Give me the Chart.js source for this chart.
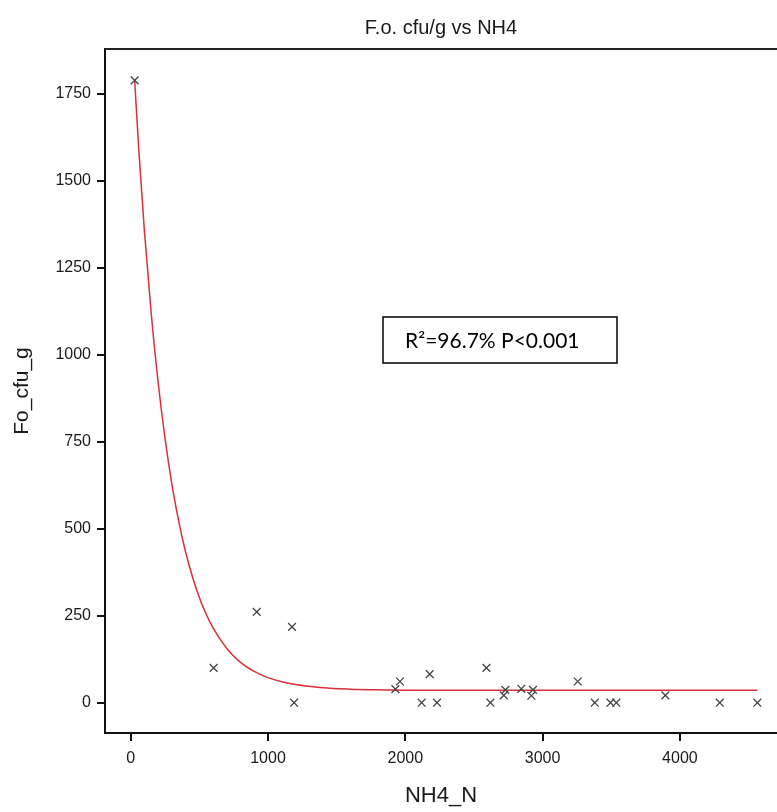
<!DOCTYPE html>
<html>
<head>
<meta charset="utf-8">
<title>F.o. cfu/g vs NH4</title>
<script src="https://cdn.jsdelivr.net/npm/chart.js@4.4.0/dist/chart.umd.min.js"></script>
<style>
    html, body { margin: 0; padding: 0; background: #fff; }
    canvas { display: block; }
</style>
</head>
<body>
<canvas id="fitChart" width="777" height="812"></canvas>
<script>
// Observations (NH4_N vs Fo_cfu_g)
const nh4N = [29, 604, 918, 1175, 1190, 1928, 1961, 2119, 2178, 2231, 2591, 2620,
              2717, 2729, 2845, 2918, 2930, 3256, 3380, 3494, 3537, 3894, 4290, 4564];
const foCfu = [1788, 100, 261, 218, 0, 39, 61, 0, 82, 0, 100, 0,
               21, 37, 40, 20, 37, 61, 0, 0, 0, 21, 0, 0];

// Fitted curve
const fitX = [29, 60, 100, 150, 200, 250, 300, 350, 400, 450, 500, 550, 600, 700,
              800, 900, 1000, 1100, 1200, 1400, 1600, 1800, 2000, 2500, 3000, 3500, 4000, 4564];
const fitY = [1788, 1583, 1355, 1116, 920, 760, 628, 521, 433, 362, 302, 254, 215, 156,
              116, 90, 72, 60, 52, 43, 39, 37, 36, 36, 36, 36, 36, 36];

// Tick labels
const xTicks = [0, 1000, 2000, 3000, 4000];
const yTicks = [0, 250, 500, 750, 1000, 1250, 1500, 1750];

const chartTitle = 'F.o. cfu/g vs NH4';
const statsText = 'R\u00b2=96.7% P<0.001';

const FONT = "'Liberation Sans', Arial, sans-serif";

// Draws the title, the top frame line and the stats box
const extrasPlugin = {
    id: 'extras',
    afterDraw(chart) {
        const { ctx, chartArea } = chart;
        ctx.save();

        // top frame line
        ctx.strokeStyle = '#222';
        ctx.lineWidth = 2;
        ctx.beginPath();
        ctx.moveTo(chartArea.left, chartArea.top);
        ctx.lineTo(chartArea.right, chartArea.top);
        ctx.stroke();

        // title
        ctx.fillStyle = '#1a1a1a';
        ctx.font = `20px ${FONT}`;
        ctx.textAlign = 'center';
        ctx.textBaseline = 'middle';
        ctx.fillText(chartTitle, (chartArea.left + chartArea.right) / 2, 28);

        // stats box
        const bx = 383, by = 317, bw = 234, bh = 46;
        ctx.fillStyle = '#fff';
        ctx.fillRect(bx, by, bw, bh);
        ctx.strokeStyle = '#000';
        ctx.lineWidth = 1.5;
        ctx.strokeRect(bx, by, bw, bh);
        ctx.fillStyle = '#000';
        ctx.font = `21px Lato, 'Open Sans', sans-serif`;
        ctx.textAlign = 'left';
        ctx.fillText(statsText, bx + 22, by + bh / 2 + 1);

        ctx.restore();
    }
};

const ctx = document.getElementById('fitChart').getContext('2d');

const chart = new Chart(ctx, {
    type: 'scatter',
    data: {
        datasets: [
            {
                label: 'Fit',
                data: fitX.map((x, i) => ({ x: x, y: fitY[i] })),
                showLine: true,
                borderColor: '#d8303c',
                borderWidth: 1.5,
                pointRadius: 0,
                cubicInterpolationMode: 'monotone',
                order: 2
            },
            {
                label: 'Fo_cfu_g',
                data: nh4N.map((x, i) => ({ x: x, y: foCfu[i] })),
                pointStyle: 'crossRot',
                pointRadius: 5.5,
                borderColor: '#444',
                borderWidth: 1.3,
                order: 1
            }
        ]
    },
    options: {
        responsive: false,
        devicePixelRatio: 1,
        animation: false,
        layout: {
            autoPadding: false,
            padding: { top: 49, left: 0, right: 0, bottom: 0 }
        },
        plugins: {
            legend: { display: false },
            tooltip: { enabled: false }
        },
        scales: {
            x: {
                type: 'linear',
                min: -187,
                max: 4707,
                afterFit: (scale) => {
                    scale.height = 79;
                    scale.paddingLeft = 0;
                    scale.paddingRight = 0;
                },
                afterBuildTicks: (scale) => { scale.ticks = xTicks.map(v => ({ value: v })); },
                border: { display: true, color: '#111', width: 2 },
                grid: { drawOnChartArea: false, drawTicks: true, tickLength: 8, color: '#111', lineWidth: 2 },
                ticks: {
                    color: '#1a1a1a',
                    padding: 8,
                    maxRotation: 0,
                    font: { family: FONT, size: 16 },
                    callback: (value) => String(value)
                },
                title: {
                    display: true,
                    text: 'NH4_N',
                    color: '#1a1a1a',
                    padding: { top: 5, bottom: 3 },
                    font: { family: FONT, size: 22 }
                }
            },
            y: {
                type: 'linear',
                min: -87,
                max: 1878,
                afterFit: (scale) => {
                    scale.width = 105;
                    scale.paddingTop = 0;
                    scale.paddingBottom = 0;
                },
                afterBuildTicks: (scale) => { scale.ticks = yTicks.map(v => ({ value: v })); },
                border: { display: true, color: '#111', width: 2 },
                grid: { drawOnChartArea: false, drawTicks: true, tickLength: 8, color: '#111', lineWidth: 2 },
                ticks: {
                    color: '#1a1a1a',
                    padding: 6,
                    font: { family: FONT, size: 16 },
                    callback: (value) => String(value)
                },
                title: {
                    display: true,
                    text: 'Fo_cfu_g',
                    color: '#1a1a1a',
                    padding: { top: 10, bottom: 10 },
                    font: { family: FONT, size: 21 }
                }
            }
        }
    },
    plugins: [extrasPlugin]
});
</script>
</body>
</html>
